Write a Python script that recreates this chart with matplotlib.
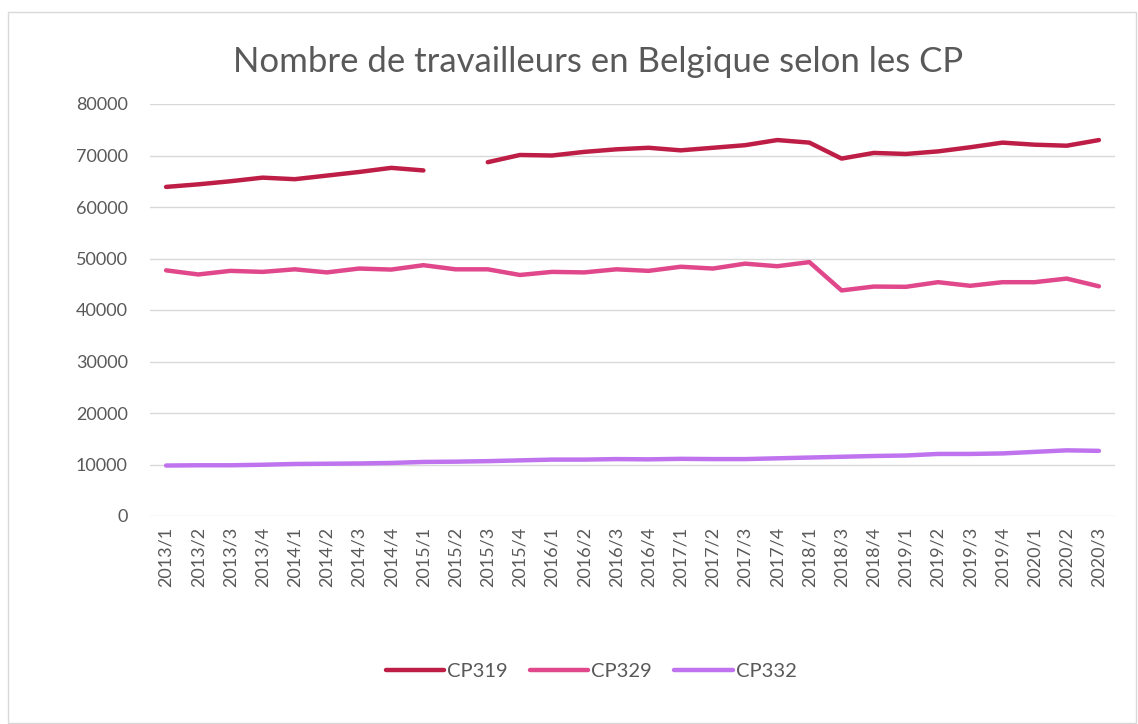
import matplotlib
matplotlib.use("Agg")
import matplotlib.pyplot as plt
import numpy as np
from matplotlib.patches import Rectangle

categories = ["2013/1", "2013/2", "2013/3", "2013/4", "2014/1", "2014/2", "2014/3", "2014/4",
              "2015/1", "2015/2", "2015/3", "2015/4", "2016/1", "2016/2", "2016/3", "2016/4",
              "2017/1", "2017/2", "2017/3", "2017/4", "2018/1", "2018/3", "2018/4", "2019/1",
              "2019/2", "2019/3", "2019/4", "2020/1", "2020/2", "2020/3"]

cp319 = [63900, 64400, 65000, 65700, 65400, 66100, 66800, 67600, 67100, np.nan,
         68700, 70100, 70000, 70700, 71200, 71500, 71000, 71500, 72000, 73000,
         72500, 69400, 70500, 70300, 70800, 71600, 72500, 72100, 71900, 73000]

cp329 = [47700, 46900, 47600, 47400, 47900, 47300, 48050, 47850, 48700, 47900,
         47900, 46800, 47400, 47300, 47900, 47600, 48400, 48050, 49000, 48500,
         49300, 43800, 44550, 44500, 45400, 44700, 45400, 45400, 46100, 44600]

cp332 = [9800, 9850, 9850, 9950, 10100, 10150, 10200, 10300, 10500, 10550,
         10650, 10800, 10950, 10950, 11050, 11000, 11100, 11050, 11050, 11200,
         11350, 11500, 11650, 11750, 12050, 12050, 12150, 12450, 12750, 12650]

series_names = ["CP319", "CP329", "CP332"]
colors = ["#BE1E45", "#E0488B", "#BF73EE"]
yticks = [0, 10000, 20000, 30000, 40000, 50000, 60000, 70000, 80000]

plt.rcParams['font.family'] = ['Lato', 'DejaVu Sans']
txt = "#595959"

fig = plt.figure(figsize=(11.38, 7.24), dpi=100)
ax = fig.add_axes([150/1138, 1 - 516/724, (1115-150)/1138, (516-104)/724])

x = np.arange(len(categories))
for vals, name, c in zip([cp319, cp329, cp332], series_names, colors):
    ax.plot(x, vals, color=c, lw=3.2, label=name, solid_capstyle='round', solid_joinstyle='round')

ax.set_xlim(-0.5, len(categories) - 0.5)
ax.set_ylim(0, 80000)
ax.set_yticks(yticks)
ax.set_yticklabels([str(v) for v in yticks], fontsize=13, color=txt)
ax.set_xticks(x)
ax.set_xticklabels(categories, rotation=90, fontsize=13, color=txt)
ax.tick_params(length=0, pad=8)
ax.tick_params(axis='y', pad=16)
ax.grid(axis='y', color="#D9D9D9", lw=1)
ax.set_axisbelow(True)
for s in ax.spines.values():
    s.set_visible(False)

fig.text(598/1138, 1 - 62/724, "Nombre de travailleurs en Belgique selon les CP",
         ha='center', va='center', fontsize=25, color=txt)

leg = fig.legend(loc='center', bbox_to_anchor=(591/1138, 1 - 671/724), ncol=3, frameon=False,
                 fontsize=14.5, handlelength=2.9, columnspacing=1.1, handletextpad=0.15)
for t in leg.get_texts():
    t.set_color(txt)

fig.patches.append(Rectangle((8/1138, 0.002), 1 - 10/1138, 1 - 12/724 - 0.002, transform=fig.transFigure,
                             fill=False, edgecolor="#D9D9D9", lw=1))

fig.savefig("out.png", dpi=100, facecolor="white")
